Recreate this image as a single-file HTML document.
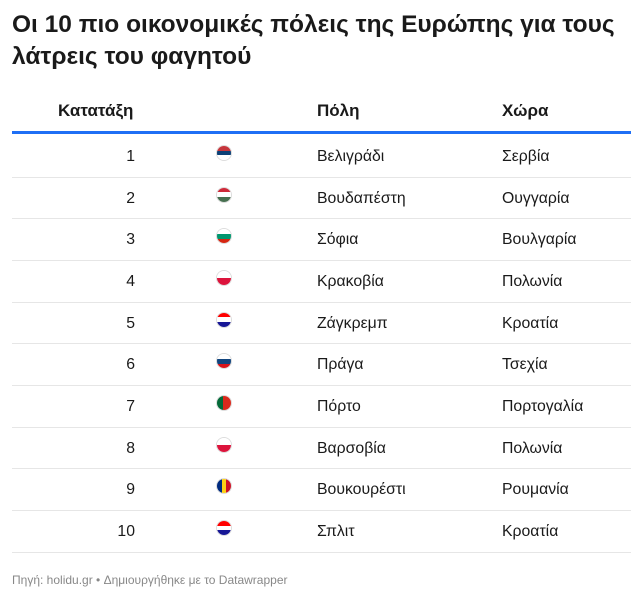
<!DOCTYPE html>
<html><head><meta charset="utf-8"><style>
body{margin:0;width:643px;height:600px;background:#fff;font-family:"Liberation Sans","Noto Sans CJK SC",sans-serif;color:#1a1a1a;position:relative;overflow:hidden}
.t{position:absolute;left:12px;top:9px;font-size:24.5px;font-weight:bold;line-height:32px;width:630px;white-space:nowrap}
.h{position:absolute;top:101px;font-size:17px;font-weight:bold}
.blue{position:absolute;left:12px;top:131px;width:619px;height:3px;background:#1f6ff5}
.row{position:absolute;left:12px;width:619px;height:41.67px;border-bottom:1px solid #e6e6e6;font-size:15.8px}
.row span{position:absolute;top:13px}
.rk{right:496px;text-align:right}
.ct{left:305px}.co{left:490px}
.fl{position:absolute;left:204px;top:10px;width:16px;height:16px;border-radius:50%;overflow:hidden}
.fl i{display:block;height:33.4%}
.foot{position:absolute;left:12px;top:573px;font-size:12px;color:#888}
</style></head><body>
<div class="t">Οι 10 πιο οικονομικές πόλεις της Ευρώπης για τους<br>λάτρεις του φαγητού</div>
<div class="h" style="left:58px">Κατατάξη</div>
<div class="h" style="left:317px">Πόλη</div>
<div class="h" style="left:502px">Χώρα</div>
<div class="blue"></div>
<div id="rows"></div>
<div class="foot">Πηγή: holidu.gr • Δημιουργήθηκε με το Datawrapper</div>
<script>
const ranks=[1,2,3,4,5,6,7,8,9,10];
const cities=["Βελιγράδι","Βουδαπέστη","Σόφια","Κρακοβία","Ζάγκρεμπ","Πράγα","Πόρτο","Βαρσοβία","Βουκουρέστι","Σπλιτ"];
const countries=["Σερβία","Ουγγαρία","Βουλγαρία","Πολωνία","Κροατία","Τσεχία","Πορτογαλία","Πολωνία","Ρουμανία","Κροατία"];
const flags={"Σερβία":["#c6363c","#0c4076","#fff"],"Ουγγαρία":["#ce2939","#fff","#477050"],"Βουλγαρία":["#fff","#00966e","#d62612"],"Πολωνία":["#fff","#fff","#dc143c"],"Κροατία":["#ff0000","#fff","#171796"],"Τσεχία":["#fff","#11457e","#d7141a"],"Πορτογαλία":["#046a38","#da291c","#da291c"],"Ρουμανία":["#002b7f","#fcd116","#ce1126"]};
const c=document.getElementById('rows');
ranks.forEach((r,i)=>{
 const d=document.createElement('div');d.className='row';d.style.top=(135+i*41.67)+'px';
 
 
 const f=flags[countries[i]];let fh;
 if(countries[i]==="Ρουμανία"||countries[i]==="Πορτογαλία"){
  const w=countries[i]==="Πορτογαλία"?['40%','60%','0']:['33.4%','33.3%','33.3%'];
  fh=`<div class="fl" style="display:flex;border:1px solid #ddd;box-sizing:border-box">${f.map((col,k)=>`<i style="height:100%;width:${w[k]};background:${col}"></i>`).join('')}</div>`;
 } else if(countries[i]==="Πολωνία"){
  fh=`<div class="fl" style="border:1px solid #ddd;box-sizing:border-box"><i style="height:50%;background:#fff"></i><i style="height:50%;background:#dc143c"></i></div>`;
 } else {
  fh=`<div class="fl" style="border:1px solid #ddd;box-sizing:border-box">${f.map(col=>`<i style="background:${col}"></i>`).join('')}</div>`;
 }
 d.innerHTML=`<span class="rk">${r}</span>${fh}<span class="ct">${cities[i]}</span><span class="co">${countries[i]}</span>`;
 c.appendChild(d);
});
</script>
</body></html>
